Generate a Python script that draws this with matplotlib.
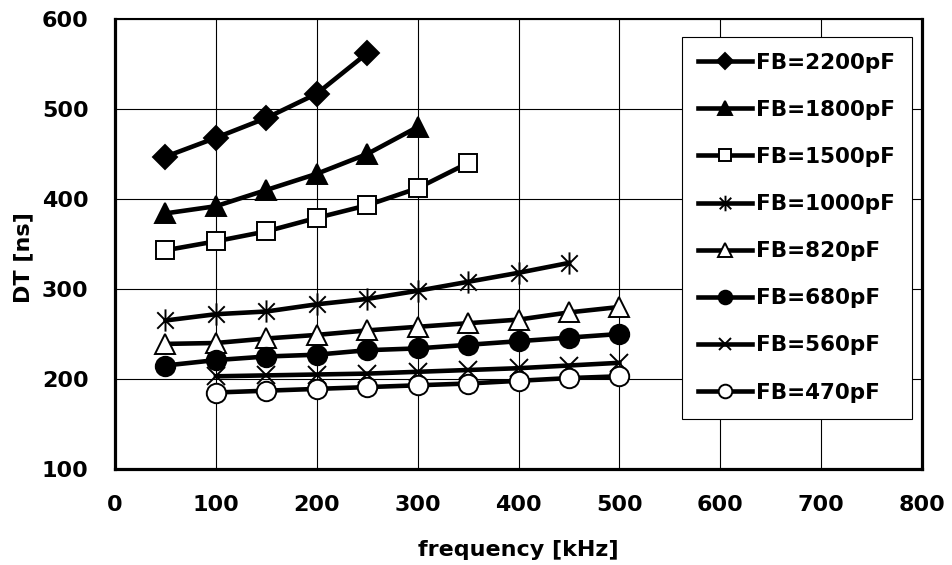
import matplotlib.pyplot as plt
from matplotlib.path import Path

plt.rcParams['font.family'] = ['DejaVu Sans']
plt.rcParams['font.weight'] = 'bold'

f_2200 = [50, 100, 150, 200, 250]
dt_2200 = [447, 468, 490, 517, 562]
f_1800 = [50, 100, 150, 200, 250, 300]
dt_1800 = [384, 392, 410, 428, 450, 480]
f_1500 = [50, 100, 150, 200, 250, 300, 350]
dt_1500 = [343, 353, 364, 379, 393, 412, 440]
f_1000 = [50, 100, 150, 200, 250, 300, 350, 400, 450]
dt_1000 = [265, 272, 275, 283, 289, 298, 308, 318, 329]
f_820 = [50, 100, 150, 200, 250, 300, 350, 400, 450, 500]
dt_820 = [239, 240, 245, 249, 254, 258, 262, 266, 274, 280]
f_680 = [50, 100, 150, 200, 250, 300, 350, 400, 450, 500]
dt_680 = [215, 221, 225, 227, 232, 234, 238, 242, 246, 250]
f_560 = [100, 150, 200, 250, 300, 350, 400, 450, 500]
dt_560 = [203, 204, 205, 206, 208, 210, 212, 215, 218]
f_470 = [100, 150, 200, 250, 300, 350, 400, 450, 500]
dt_470 = [185, 187, 189, 191, 193, 195, 198, 201, 203]

# gwiazdka jak w Excelu: X + pionowa kreska
star = Path([(-1, -1), (1, 1), (-1, 1), (1, -1), (0, -1.35), (0, 1.35)],
            [Path.MOVETO, Path.LINETO, Path.MOVETO, Path.LINETO, Path.MOVETO, Path.LINETO])

serie = [
    (f_2200, dt_2200, 'FB=2200pF', 'D', 'black', 12),
    (f_1800, dt_1800, 'FB=1800pF', '^', 'black', 14),
    (f_1500, dt_1500, 'FB=1500pF', 's', 'white', 13),
    (f_1000, dt_1000, 'FB=1000pF', star, 'none', 16),
    (f_820, dt_820, 'FB=820pF', '^', 'white', 14),
    (f_680, dt_680, 'FB=680pF', 'o', 'black', 14),
    (f_560, dt_560, 'FB=560pF', 'x', 'none', 13),
    (f_470, dt_470, 'FB=470pF', 'o', 'white', 14),
]

fig = plt.figure(figsize=(9.53, 5.65), dpi=100)
ax = fig.add_axes([0.1207, 0.1699, 0.8468, 0.7965])

for x, y, lab, m, fc, ms in serie:
    ax.plot(x, y, color='black', lw=3.3, marker=m, ms=ms, mfc=fc, mec='black',
            mew=1.4, label=lab)

ax.set_xlim(0, 800)
ax.set_ylim(100, 600)
ax.set_xticks(range(0, 801, 100))
ax.set_yticks(range(100, 601, 100))
ax.grid(True, color='black', lw=0.8)
ax.tick_params(length=0, labelsize=16, pad=19)
for s in ['left', 'right', 'bottom']:
    ax.spines[s].set_linewidth(2.3)
ax.spines['top'].set_linewidth(1.5)
ax.set_xlabel('frequency [kHz]', fontsize=16, fontweight='bold', labelpad=18)
ax.set_ylabel('DT [ns]', fontsize=16, fontweight='bold')
ax.yaxis.set_label_coords(-0.1016, 0.469)

leg = ax.legend(loc='upper right', bbox_to_anchor=(0.987, 0.961), fontsize=15.5,
                markerscale=0.7, handlelength=2.5, labelspacing=1.26,
                borderpad=0.75, borderaxespad=0, handletextpad=0.2,
                fancybox=False, framealpha=1)
leg.get_frame().set_edgecolor('black')
leg.get_frame().set_linewidth(0.8)

plt.savefig('out.png')
